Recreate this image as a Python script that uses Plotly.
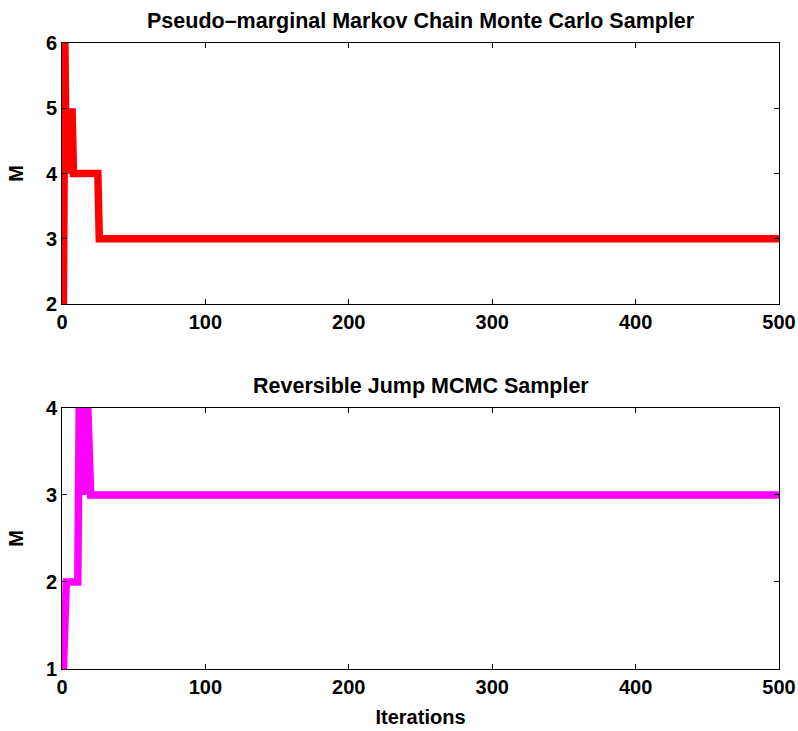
import plotly.graph_objects as go

# Pseudo-marginal MCMC: run-length encoded trace of M (value, number of iterations)
pm_values = [2, 6, 4, 5, 4, 5, 4, 3]
pm_runs = [1, 1, 1, 1, 1, 2, 18, 475]

# Reversible jump MCMC trace of M
rj_values = [1, 2, 4, 3, 4, 3, 4, 3, 4, 3]
rj_runs = [1, 10, 1, 1, 1, 1, 1, 1, 1, 482]

x_ticks = [0, 100, 200, 300, 400, 500]
pm_y_ticks = [2, 3, 4, 5, 6]
rj_y_ticks = [1, 2, 3, 4]


def expand(values, runs):
    out = []
    for v, r in zip(values, runs):
        out.extend([v] * r)
    return out


pm_y = expand(pm_values, pm_runs)
rj_y = expand(rj_values, rj_runs)
pm_x = list(range(1, len(pm_y) + 1))
rj_x = list(range(1, len(rj_y) + 1))

FONT = "Liberation Sans, Arial, Helvetica, sans-serif"
TICKF = dict(family=FONT, size=20, color="black", weight="bold")
LABF = dict(family=FONT, size=20, color="black", weight="bold")
TITF = dict(family=FONT, size=21.5, color="black", weight="bold")

fig = go.Figure()
fig.add_trace(go.Scatter(x=pm_x, y=pm_y, mode="lines",
                         line=dict(color="#ff0000", width=7.5), xaxis="x", yaxis="y"))
fig.add_trace(go.Scatter(x=rj_x, y=rj_y, mode="lines",
                         line=dict(color="#ff00ff", width=7.5), xaxis="x2", yaxis="y2"))

axis_common = dict(showline=True, linecolor="black", linewidth=1, mirror="ticks",
                   ticks="inside", ticklen=5, tickcolor="black", showgrid=False,
                   zeroline=False, automargin=False, tickfont=TICKF)

fig.update_layout(
    width=798, height=731,
    margin=dict(l=62, r=19, t=43, b=62),
    paper_bgcolor="white", plot_bgcolor="white",
    showlegend=False,
    xaxis=dict(domain=[0, 1], range=[0, 500], tickvals=x_ticks, anchor="y", **axis_common),
    yaxis=dict(domain=[0.583, 1], range=[2, 6], tickvals=pm_y_ticks, anchor="x",
               title=dict(text="M", font=LABF, standoff=16), **axis_common),
    xaxis2=dict(domain=[0, 1], range=[0, 500], tickvals=x_ticks, anchor="y2",
                title=dict(text="Iterations", font=LABF, standoff=12), **axis_common),
    yaxis2=dict(domain=[0, 0.417], range=[1, 4], tickvals=rj_y_ticks, anchor="x2",
                title=dict(text="M", font=LABF, standoff=16), **axis_common),
    annotations=[
        dict(text="Pseudo\u2013marginal Markov Chain Monte Carlo Sampler", x=0.5, y=1,
             xref="paper", yref="paper", xanchor="center", yanchor="bottom", yshift=8,
             showarrow=False, font=TITF),
        dict(text="Reversible Jump MCMC Sampler", x=0.5, y=0.417,
             xref="paper", yref="paper", xanchor="center", yanchor="bottom", yshift=8,
             showarrow=False, font=TITF),
    ],
)

fig.write_html("out.html", config={"displayModeBar": False},
               post_script="document.body.style.margin='0';")
